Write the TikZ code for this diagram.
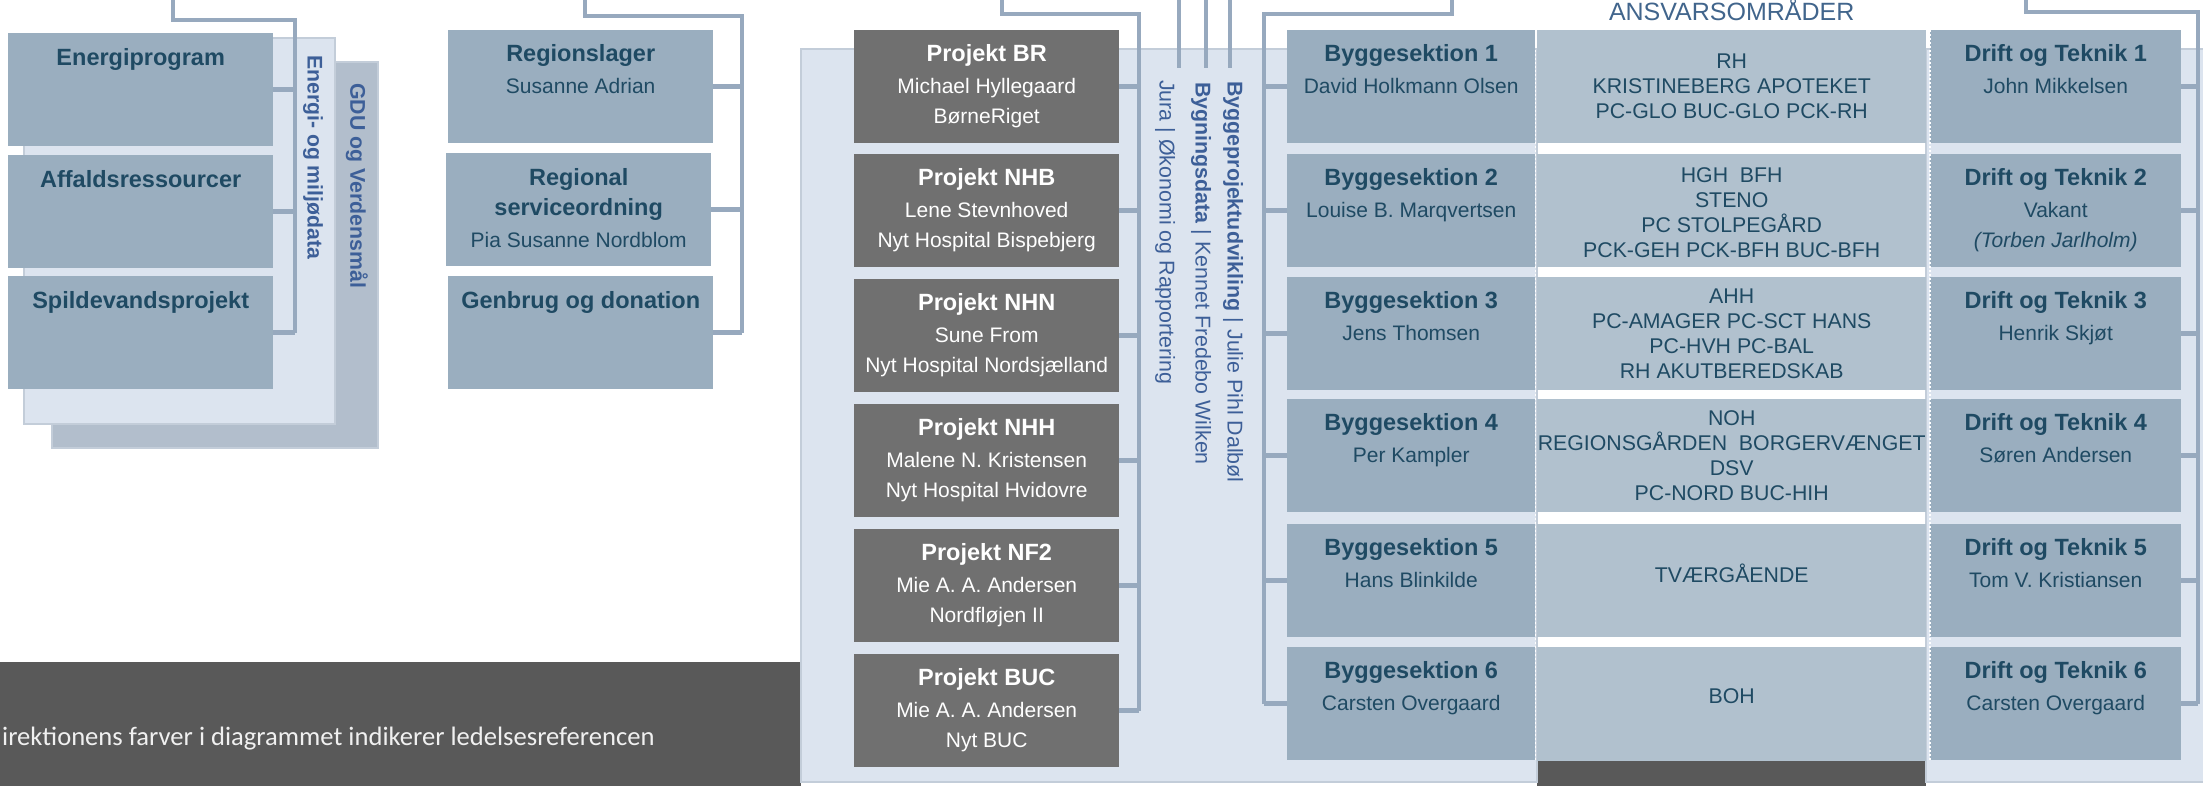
\documentclass[tikz,border=0pt]{standalone}
\usepackage{fontspec}
\setmainfont{Liberation Sans}
\newfontfamily\calfont{Carlito}
\usetikzlibrary{positioning}
\pgfdeclarelayer{bg}
\pgfsetlayers{bg,main}

\definecolor{boxgray}{HTML}{9AAEBF}
\definecolor{ansgray}{HTML}{B1C1CE}
\definecolor{panelblue}{HTML}{DCE4EF}
\definecolor{paneldark}{HTML}{B2BECC}
\definecolor{panelline}{HTML}{C3CDD9}
\definecolor{projgray}{HTML}{707070}
\definecolor{bannergray}{HTML}{595959}
\definecolor{linegray}{HTML}{97A9BE}
\definecolor{txtdark}{HTML}{1F4A63}
\definecolor{labblue}{HTML}{3D5F98}
\definecolor{ansblue}{HTML}{41658C}

\tikzset{
  grabox/.style={fill=boxgray, minimum width=265pt, minimum height=113pt, anchor=north west, inner sep=0},
  projbox/.style={grabox, fill=projgray},
  ansbox/.style={grabox, fill=ansgray, minimum width=389pt},
  boxtext/.style={inner sep=0, align=center, text=txtdark, font=\fontsize{21}{30}\selectfont},
  projtext/.style={boxtext, text=white},
  anstext/.style={boxtext, font=\fontsize{21.3}{25}\selectfont},
  vtext/.style={rotate=-90, anchor=west, inner sep=0, text=labblue, font=\fontsize{21.4}{25}\selectfont},
  bus/.style={draw=linegray, line width=4.5pt},
  panel/.style={fill=panelblue, draw=panelline, line width=2.5pt},
  dots/.style={draw=white, line width=1.5pt, dash pattern=on 2pt off 2pt}
}
\newcommand{\ttl}[1]{{\fontsize{23.5}{30}\selectfont\bfseries #1}}

\begin{document}
\begin{tikzpicture}[x=1pt,y=-1pt]
  \useasboundingbox (0,0) rectangle (2203,785);

  \begin{pgfonlayer}{bg}    % panels and dark bars
    \fill[bannergray] (-5,662) rectangle (801,790);
    \fill[bannergray] (1537,761) rectangle (1926,790);
    \draw[panel, fill=paneldark] (52,62) rectangle (378,448);
    \draw[panel] (24,38) rectangle (335,424);
    \draw[panel] (801,49) rectangle (1537,782);
    \draw[panel] (1926,49) rectangle (2230,782);
  \end{pgfonlayer}

  % left group
  \node [grabox] (e1) at (8,33) {};
  \node [grabox] (e2) at (8,155) {};
  \node [grabox] (e3) at (8,276) {};
  \node [boxtext, below=15pt of e1.north] {\ttl{Energiprogram}};
  \node [boxtext, below=15pt of e2.north] {\ttl{Affaldsressourcer}};
  \node [boxtext, below=15pt of e3.north] {\ttl{Spildevandsprojekt}};
  \node [vtext, font=\bfseries\fontsize{21.2}{25}\selectfont] (em) at (313,55) {Energi- og miljødata};
  \node [vtext, font=\bfseries\fontsize{21.3}{25}\selectfont] (gdu) at (357,83) {GDU og Verdensmål};

  \coordinate (t1) at (173,-10);
  \coordinate (k1) at (295,20);
  \draw[bus] (t1) |- (k1) -- (k1 |- e3.east);
  \draw[bus] (e1.east) -- (e1.east -| k1) (e2.east) -- (e2.east -| k1) (e3.east) -- (e3.east -| k1);

  % region group
  \node [grabox] (r1) at (448,30) {};
  \node [grabox] (r2) at (446,153) {};
  \node [grabox] (r3) at (448,276) {};
  \node [boxtext, below=14pt of r1.north] {\ttl{Regionslager}\\[2pt]Susanne Adrian};
  \node [boxtext, below=15pt of r2.north] {\ttl{Regional}\\\ttl{serviceordning}\\[2pt]Pia Susanne Nordblom};
  \node [boxtext, below=15pt of r3.north] {\ttl{Genbrug og donation}};

  \coordinate (t2) at (585,-10);
  \coordinate (k2) at (742,16);
  \draw[bus] (t2) |- (k2) -- (k2 |- r3.east);
  \draw[bus] (r1.east) -- (r1.east -| k2) (r2.east) -- (r2.east -| k2) (r3.east) -- (r3.east -| k2);

  % projects
  \node [projbox] (p1) at (854,30) {};
  \node [projbox] (p2) at (854,154) {};
  \node [projbox] (p3) at (854,279) {};
  \node [projbox] (p4) at (854,404) {};
  \node [projbox] (p5) at (854,529) {};
  \node [projbox] (p6) at (854,654) {};
  \node [projtext, below=14pt of p1.north] {\ttl{Projekt BR}\\[2pt]Michael Hyllegaard\\BørneRiget};
  \node [projtext, below=14pt of p2.north] {\ttl{Projekt NHB}\\[2pt]Lene Stevnhoved\\Nyt Hospital Bispebjerg};
  \node [projtext, below=14pt of p3.north] {\ttl{Projekt NHN}\\[2pt]Sune From\\Nyt Hospital Nordsjælland};
  \node [projtext, below=14pt of p4.north] {\ttl{Projekt NHH}\\[2pt]Malene N. Kristensen\\Nyt Hospital Hvidovre};
  \node [projtext, below=14pt of p5.north] {\ttl{Projekt NF2}\\[2pt]Mie A. A. Andersen\\Nordfløjen II};
  \node [projtext, below=14pt of p6.north] {\ttl{Projekt BUC}\\[2pt]Mie A. A. Andersen\\Nyt BUC};

  \coordinate (t3) at (1002,-10);
  \coordinate (k3) at (1139,14);
  \draw[bus] (t3) |- (k3) -- (k3 |- p6.east);
  \draw[bus] (p1.east) -- (p1.east -| k3) (p2.east) -- (p2.east -| k3) (p3.east) -- (p3.east -| k3)
             (p4.east) -- (p4.east -| k3) (p5.east) -- (p5.east -| k3) (p6.east) -- (p6.east -| k3);

  % staff functions
  \node [vtext] (jura) at (1165,80) {Jura | Økonomi og Rapportering};
  \node [vtext] (bygdata) at (1201,82) {\textbf{Bygningsdata} | Kennet Fredebo Wilken};
  \node [vtext] (byggeudv) at (1233,81) {\textbf{Byggeprojektudvikling} | Julie Pihl Dalbøl};
  \coordinate (j1) at (1179,-10);
  \coordinate (j2) at (1206,-10);
  \coordinate (j3) at (1230,-10);
  \draw[bus, shorten >=12pt] (j1) -- (j1 |- jura.west);
  \draw[bus, shorten >=14pt] (j2) -- (j2 |- bygdata.west);
  \draw[bus, shorten >=13pt] (j3) -- (j3 |- byggeudv.west);

  % byggesektioner
  \node [grabox, minimum width=248pt] (s1) at (1287,30) {};
  \node [grabox, minimum width=248pt] (s2) at (1287,154) {};
  \node [grabox, minimum width=248pt] (s3) at (1287,277) {};
  \node [grabox, minimum width=248pt] (s4) at (1287,399) {};
  \node [grabox, minimum width=248pt] (s5) at (1287,524) {};
  \node [grabox, minimum width=248pt] (s6) at (1287,647) {};
  \node [boxtext, below=14pt of s1.north] {\ttl{Byggesektion 1}\\[2pt]David Holkmann Olsen};
  \node [boxtext, below=14pt of s2.north] {\ttl{Byggesektion 2}\\[2pt]Louise B. Marqvertsen};
  \node [boxtext, below=14pt of s3.north] {\ttl{Byggesektion 3}\\[2pt]Jens Thomsen};
  \node [boxtext, below=14pt of s4.north] {\ttl{Byggesektion 4}\\[2pt]Per Kampler};
  \node [boxtext, below=14pt of s5.north] {\ttl{Byggesektion 5}\\[2pt]Hans Blinkilde};
  \node [boxtext, below=14pt of s6.north] {\ttl{Byggesektion 6}\\[2pt]Carsten Overgaard};

  \coordinate (t4) at (1452,-10);
  \coordinate (k4) at (1264,14);
  \draw[bus] (t4) |- (k4) -- (k4 |- s6.west);
  \draw[bus] (s1.west) -- (s1.west -| k4) (s2.west) -- (s2.west -| k4) (s3.west) -- (s3.west -| k4)
             (s4.west) -- (s4.west -| k4) (s5.west) -- (s5.west -| k4) (s6.west) -- (s6.west -| k4);

  % ansvarsomraader
  \node [ansbox] (a1) at (1537,30) {};
  \node [ansbox] (a2) at (1537,154) {};
  \node [ansbox] (a3) at (1537,277) {};
  \node [ansbox] (a4) at (1537,399) {};
  \node [ansbox] (a5) at (1537,524) {};
  \node [ansbox, minimum height=114pt] (a6) at (1537,647) {};
  \node [anstext] at (a1) {RH\\KRISTINEBERG APOTEKET\\PC-GLO BUC-GLO PCK-RH};
  \node [anstext, yshift=-2pt] at (a2) {HGH~ BFH\\STENO\\PC STOLPEGÅRD\\PCK-GEH PCK-BFH BUC-BFH};
  \node [anstext] at (a3) {AHH\\PC-AMAGER PC-SCT HANS\\PC-HVH PC-BAL\\RH AKUTBEREDSKAB};
  \node [anstext] at (a4) {NOH\\REGIONSGÅRDEN~ BORGERVÆNGET\\DSV\\PC-NORD BUC-HIH};
  \node [anstext, yshift=7pt] at (a5) {TVÆRGÅENDE};
  \node [anstext, yshift=8pt] at (a6) {BOH};
  \node [text=ansblue, inner sep=0, font=\fontsize{25}{25}\selectfont, above=9pt of a1.north] (ans) {ANSVARSOMRÅDER};

  % drift og teknik
  \node [grabox, minimum width=251pt] (d1) at (1930,30) {};
  \node [grabox, minimum width=251pt] (d2) at (1930,154) {};
  \node [grabox, minimum width=251pt] (d3) at (1930,277) {};
  \node [grabox, minimum width=251pt] (d4) at (1930,399) {};
  \node [grabox, minimum width=251pt] (d5) at (1930,524) {};
  \node [grabox, minimum width=251pt] (d6) at (1930,647) {};
  \node [boxtext, below=14pt of d1.north] {\ttl{Drift og Teknik 1}\\[2pt]John Mikkelsen};
  \node [boxtext, below=14pt of d2.north] {\ttl{Drift og Teknik 2}\\[2pt]Vakant\\{\itshape (Torben Jarlholm)}};
  \node [boxtext, below=14pt of d3.north] {\ttl{Drift og Teknik 3}\\[2pt]Henrik Skjøt};
  \node [boxtext, below=14pt of d4.north] {\ttl{Drift og Teknik 4}\\[2pt]Søren Andersen};
  \node [boxtext, below=14pt of d5.north] {\ttl{Drift og Teknik 5}\\[2pt]Tom V. Kristiansen};
  \node [boxtext, below=14pt of d6.north] {\ttl{Drift og Teknik 6}\\[2pt]Carsten Overgaard};

  \coordinate (t5) at (2026,-10);
  \coordinate (k5) at (2198,12);
  \draw[bus] (t5) |- (k5) -- (k5 |- d6.east);
  \draw[bus] (d1.east) -- (d1.east -| k5) (d2.east) -- (d2.east -| k5) (d3.east) -- (d3.east -| k5)
             (d4.east) -- (d4.east -| k5) (d5.east) -- (d5.east -| k5) (d6.east) -- (d6.east -| k5);

  % white dotted separators
  \draw[dots] (s1.north east) -- (s6.south east);
  \draw[dots] (d1.north west) -- (d6.south west);

  % note in the dark bar
  \node [anchor=base west, inner sep=0, text=white!88!gray, font=\calfont\fontsize{26.6}{26}\selectfont] (note) at (2,745) {irektionens farver i diagrammet indikerer ledelsesreferencen};
\end{tikzpicture}
\end{document}
